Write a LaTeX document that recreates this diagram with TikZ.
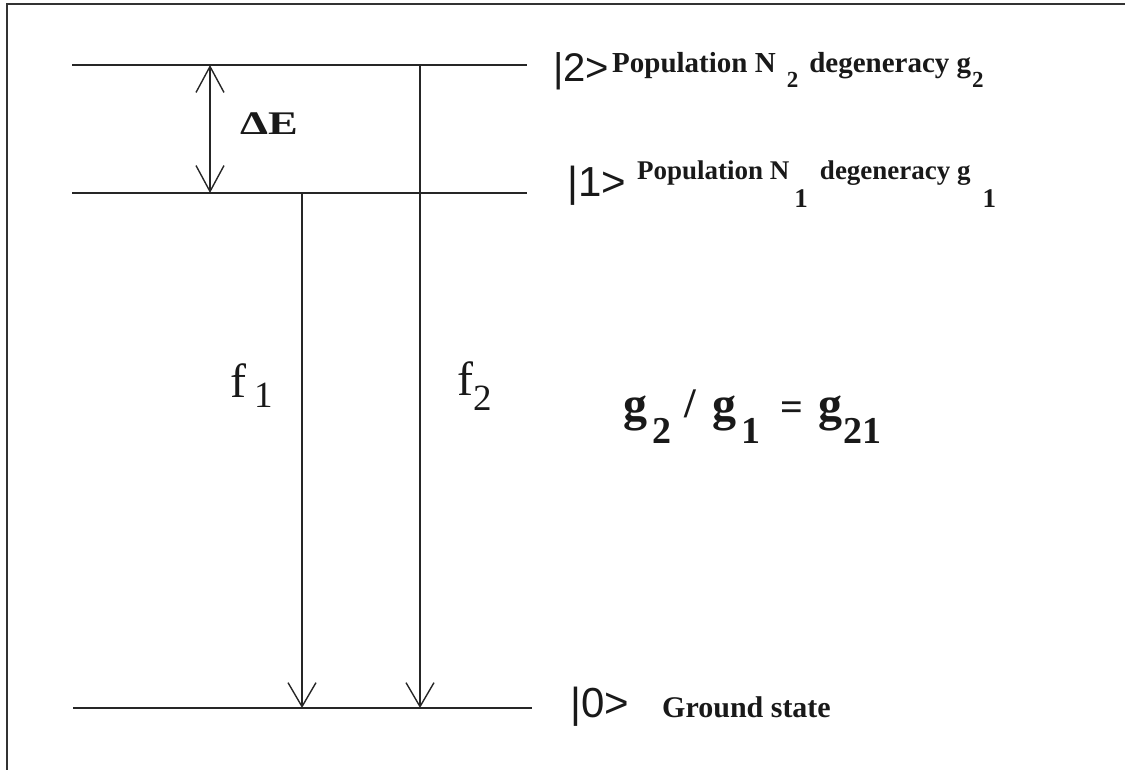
\documentclass[tikz,border=0pt]{standalone}
\usepackage{fontspec}
\usepackage{graphicx}
\setmainfont{Liberation Serif}
\newfontfamily\ketfont{Liberation Sans}
\usetikzlibrary{arrows.meta}
\newcommand\fsz[1]{\fontsize{#1}{#1}\selectfont}
\newcommand\lowtxt[3]{\raisebox{-#1pt}{\fsz{#2}#3}}
\tikzset{
  level/.style={line width=1.6pt, draw=black!85},
  trans/.style={line width=1.4pt, draw=black!85,
    -{Straight Barb[length=24pt,width=28pt,line width=1.4pt]}},
  transboth/.style={line width=1.4pt, draw=black!85,
    {Straight Barb[length=26pt,width=28pt,line width=1.4pt]}-{Straight Barb[length=26pt,width=28pt,line width=1.4pt]}},
  lbl/.style={inner sep=0pt, anchor=base west, text=black!90},
  frame/.style={line width=1.8pt, draw=black!80}
}
\begin{document}
\begin{tikzpicture}[x=1pt,y=-1pt]
\useasboundingbox (0,0) rectangle (1125,770);
% frame (top and left edges)
\coordinate (FrTL) at (7,4);
\coordinate (FrTR) at (1125,4);
\coordinate (FrBL) at (7,770);
\draw[frame] (FrBL) -- (FrTL) -- (FrTR);
% levels
\coordinate (L2a) at (72,65);  \coordinate (L2b) at (527,65);
\coordinate (L1a) at (72,193); \coordinate (L1b) at (527,193);
\coordinate (L0a) at (73,708); \coordinate (L0b) at (532,708);
\draw[level] (L2a) -- (L2b);
\draw[level] (L1a) -- (L1b);
\draw[level] (L0a) -- (L0b);
% transition end points
\coordinate (dEt) at (210,65);  \coordinate (dEb) at (210,193);
\coordinate (f1t) at (302,193); \coordinate (f1b) at (302,708);
\coordinate (f2t) at (420,65);  \coordinate (f2b) at (420,708);
\draw[transboth] (dEt) -- (dEb);
\draw[trans] (f1t) -- (f1b);
\draw[trans] (f2t) -- (f2b);
% labels
\node[lbl] (dE) at (240,135) {\scalebox{1.35}[1]{\fsz{33}\bfseries ΔE}};
\node[lbl] (f1) at (230,397) {\fsz{48}f\hspace{8pt}\lowtxt{10}{37}{1}};
\node[lbl] (f2) at (457,395) {\fsz{48}f\hspace{0pt}\lowtxt{15}{37}{2}};
% kets
\node[lbl] (k2) at (553,82) {\ketfont\fsz{40}|2>};
\node[lbl] (k1) at (567,197) {\ketfont\fsz{42}|1>};
\node[lbl] (k0) at (570,717) {\ketfont\fsz{42}|0>};
% level descriptions
\node[lbl] (d2) at (612,73) {\bfseries\fsz{29}Population N\hspace{11pt}\lowtxt{15}{23}{2}\hspace{11pt}degeneracy g\hspace{1pt}\lowtxt{15}{23}{2}};
\node[lbl] (d1) at (637,180) {\bfseries\fsz{27}Population N\hspace{5pt}\lowtxt{28}{27}{1}\hspace{12pt}degeneracy g\hspace{12pt}\lowtxt{28}{27}{1}};
\node[lbl] (d0) at (662,717) {\bfseries\fsz{30}Ground state};
% ratio
\node[lbl] (ratio) at (623,420) {\bfseries\fsz{48}g\hspace{5pt}\lowtxt{23}{38}{2}\hspace{13pt}\raisebox{3pt}{\fsz{42}/}\hspace{17pt}g\hspace{5pt}\lowtxt{23}{38}{1}\hspace{20pt}{\fsz{40}=}\hspace{15pt}g\hspace{1pt}\lowtxt{23}{38}{21}};
\end{tikzpicture}
\end{document}
